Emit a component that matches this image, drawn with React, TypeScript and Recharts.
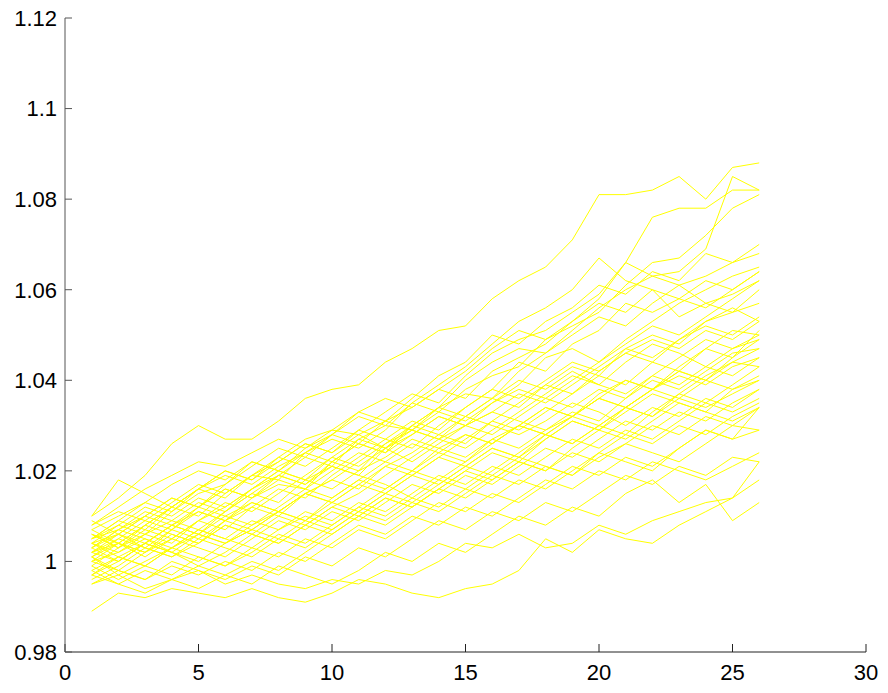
import React from "react";
import { LineChart, Line, XAxis, YAxis } from "recharts";

// time steps
const steps = [1, 2, 3, 4, 5, 6, 7, 8, 9, 10, 11, 12, 13, 14, 15, 16, 17, 18, 19, 20, 21, 22, 23, 24, 25, 26];

const xTicks = [0, 5, 10, 15, 20, 25, 30];
const yTicks = [0.98, 1, 1.02, 1.04, 1.06, 1.08, 1.1, 1.12];

// simulated paths
const path01 = [1.010, 1.014, 1.019, 1.026, 1.030, 1.027, 1.027, 1.031, 1.036, 1.038, 1.039, 1.044, 1.047, 1.051, 1.052, 1.058, 1.062, 1.065, 1.071, 1.081, 1.081, 1.082, 1.085, 1.080, 1.087, 1.088];
const path02 = [1.004, 1.008, 1.006, 1.011, 1.015, 1.017, 1.022, 1.020, 1.025, 1.028, 1.026, 1.031, 1.034, 1.038, 1.036, 1.042, 1.045, 1.048, 1.053, 1.058, 1.066, 1.076, 1.078, 1.078, 1.082, 1.082];
const path03 = [1.002, 1.005, 1.009, 1.007, 1.012, 1.016, 1.014, 1.019, 1.023, 1.021, 1.027, 1.030, 1.029, 1.034, 1.040, 1.044, 1.047, 1.046, 1.051, 1.056, 1.060, 1.063, 1.064, 1.069, 1.085, 1.082];
const path04 = [1.006, 1.003, 1.008, 1.012, 1.010, 1.015, 1.019, 1.018, 1.024, 1.027, 1.025, 1.029, 1.035, 1.033, 1.038, 1.041, 1.043, 1.049, 1.052, 1.055, 1.061, 1.066, 1.067, 1.072, 1.078, 1.081];
const path05 = [1.001, 1.004, 1.002, 1.007, 1.011, 1.009, 1.014, 1.017, 1.016, 1.022, 1.026, 1.024, 1.030, 1.034, 1.037, 1.036, 1.042, 1.046, 1.050, 1.054, 1.052, 1.057, 1.061, 1.063, 1.066, 1.070];
const path06 = [1.007, 1.010, 1.013, 1.011, 1.016, 1.020, 1.018, 1.023, 1.027, 1.029, 1.033, 1.031, 1.036, 1.041, 1.044, 1.050, 1.048, 1.053, 1.056, 1.061, 1.059, 1.064, 1.062, 1.068, 1.066, 1.068];
const path07 = [1.003, 1.000, 1.004, 1.008, 1.006, 1.011, 1.015, 1.013, 1.018, 1.021, 1.019, 1.025, 1.028, 1.032, 1.030, 1.035, 1.039, 1.045, 1.047, 1.044, 1.049, 1.053, 1.057, 1.060, 1.063, 1.065];
const path08 = [0.999, 1.003, 1.006, 1.004, 1.009, 1.007, 1.012, 1.016, 1.014, 1.019, 1.023, 1.027, 1.025, 1.030, 1.034, 1.038, 1.044, 1.042, 1.048, 1.051, 1.057, 1.055, 1.058, 1.056, 1.060, 1.064];
const path09 = [1.005, 1.009, 1.007, 1.012, 1.016, 1.014, 1.019, 1.022, 1.026, 1.024, 1.029, 1.033, 1.037, 1.035, 1.041, 1.046, 1.049, 1.051, 1.055, 1.059, 1.066, 1.063, 1.061, 1.057, 1.059, 1.062];
const path10 = [1.002, 1.006, 1.010, 1.014, 1.012, 1.017, 1.021, 1.025, 1.023, 1.028, 1.032, 1.030, 1.035, 1.039, 1.043, 1.048, 1.053, 1.056, 1.060, 1.067, 1.062, 1.060, 1.054, 1.057, 1.055, 1.060];
const path11 = [1.004, 1.002, 1.006, 1.009, 1.013, 1.011, 1.016, 1.019, 1.017, 1.022, 1.020, 1.026, 1.029, 1.027, 1.032, 1.036, 1.034, 1.039, 1.043, 1.041, 1.047, 1.050, 1.048, 1.053, 1.055, 1.057];
const path12 = [1.000, 1.004, 1.008, 1.006, 1.004, 1.009, 1.012, 1.010, 1.015, 1.018, 1.016, 1.021, 1.024, 1.028, 1.026, 1.031, 1.035, 1.039, 1.037, 1.042, 1.046, 1.044, 1.049, 1.052, 1.050, 1.054];
const path13 = [1.008, 1.011, 1.009, 1.013, 1.017, 1.015, 1.019, 1.023, 1.021, 1.025, 1.029, 1.027, 1.031, 1.029, 1.034, 1.038, 1.036, 1.040, 1.044, 1.042, 1.046, 1.049, 1.047, 1.051, 1.049, 1.053];
const path14 = [1.003, 1.007, 1.005, 1.002, 1.006, 1.010, 1.008, 1.012, 1.016, 1.014, 1.018, 1.022, 1.020, 1.025, 1.028, 1.026, 1.030, 1.034, 1.032, 1.037, 1.040, 1.038, 1.043, 1.047, 1.045, 1.051];
const path15 = [0.998, 1.001, 0.999, 1.003, 1.006, 1.004, 1.008, 1.011, 1.015, 1.013, 1.017, 1.021, 1.019, 1.023, 1.027, 1.031, 1.029, 1.033, 1.037, 1.041, 1.039, 1.044, 1.042, 1.047, 1.051, 1.050];
const path16 = [1.006, 1.004, 1.008, 1.012, 1.016, 1.020, 1.018, 1.022, 1.026, 1.024, 1.028, 1.025, 1.030, 1.034, 1.032, 1.036, 1.040, 1.038, 1.042, 1.039, 1.044, 1.048, 1.046, 1.043, 1.047, 1.049];
const path17 = [1.001, 1.005, 1.003, 1.007, 1.005, 1.009, 1.013, 1.011, 1.009, 1.014, 1.018, 1.016, 1.020, 1.024, 1.022, 1.027, 1.025, 1.029, 1.033, 1.031, 1.036, 1.040, 1.038, 1.042, 1.046, 1.047];
const path18 = [1.005, 1.008, 1.012, 1.010, 1.014, 1.012, 1.016, 1.020, 1.018, 1.023, 1.027, 1.025, 1.022, 1.026, 1.030, 1.028, 1.032, 1.036, 1.034, 1.038, 1.036, 1.041, 1.039, 1.043, 1.041, 1.045];
const path19 = [0.997, 1.000, 1.004, 1.002, 1.000, 1.004, 1.007, 1.005, 1.009, 1.013, 1.011, 1.015, 1.019, 1.017, 1.021, 1.025, 1.023, 1.028, 1.026, 1.030, 1.034, 1.032, 1.037, 1.035, 1.039, 1.043];
const path20 = [1.003, 1.006, 1.004, 1.008, 1.011, 1.009, 1.007, 1.011, 1.015, 1.013, 1.017, 1.015, 1.019, 1.023, 1.021, 1.025, 1.023, 1.027, 1.031, 1.029, 1.033, 1.037, 1.035, 1.033, 1.038, 1.041];
const path21 = [1.009, 1.006, 1.010, 1.014, 1.012, 1.016, 1.014, 1.018, 1.016, 1.020, 1.024, 1.022, 1.026, 1.024, 1.028, 1.026, 1.030, 1.028, 1.032, 1.036, 1.034, 1.032, 1.036, 1.040, 1.038, 1.040];
const path22 = [1.000, 0.998, 1.002, 1.005, 1.003, 1.001, 1.005, 1.009, 1.007, 1.011, 1.009, 1.013, 1.017, 1.015, 1.019, 1.017, 1.021, 1.025, 1.023, 1.027, 1.031, 1.029, 1.033, 1.031, 1.035, 1.038];
const path23 = [1.004, 1.001, 0.999, 1.003, 1.007, 1.005, 1.009, 1.007, 1.011, 1.009, 1.013, 1.011, 1.015, 1.019, 1.017, 1.021, 1.019, 1.023, 1.027, 1.025, 1.029, 1.027, 1.031, 1.035, 1.033, 1.036];
const path24 = [0.996, 0.999, 1.003, 1.001, 1.005, 1.003, 1.001, 1.005, 1.003, 1.007, 1.011, 1.009, 1.013, 1.011, 1.015, 1.019, 1.017, 1.021, 1.019, 1.024, 1.028, 1.026, 1.030, 1.028, 1.032, 1.035];
const path25 = [1.002, 1.000, 1.004, 1.002, 0.999, 1.002, 1.006, 1.004, 1.008, 1.006, 1.010, 1.014, 1.012, 1.016, 1.014, 1.018, 1.022, 1.020, 1.024, 1.022, 1.026, 1.030, 1.028, 1.032, 1.030, 1.034];
const path26 = [1.007, 1.004, 1.002, 1.006, 1.004, 1.008, 1.006, 1.010, 1.008, 1.012, 1.010, 1.014, 1.012, 1.016, 1.020, 1.018, 1.022, 1.020, 1.025, 1.029, 1.027, 1.031, 1.035, 1.033, 1.031, 1.034];
const path27 = [0.999, 0.996, 0.999, 0.997, 1.001, 0.999, 1.003, 1.001, 1.005, 1.003, 1.007, 1.005, 1.009, 1.013, 1.011, 1.015, 1.013, 1.017, 1.021, 1.019, 1.023, 1.021, 1.025, 1.029, 1.027, 1.029];
const path28 = [1.001, 0.998, 0.996, 0.999, 0.997, 1.000, 0.998, 1.002, 1.000, 1.004, 1.008, 1.006, 1.010, 1.008, 1.012, 1.010, 1.014, 1.018, 1.016, 1.020, 1.018, 1.022, 1.020, 1.018, 1.021, 1.024];
const path29 = [0.995, 0.998, 0.996, 1.000, 0.998, 0.996, 0.999, 0.997, 1.001, 0.999, 1.003, 1.001, 1.005, 1.009, 1.007, 1.011, 1.009, 1.013, 1.011, 1.015, 1.019, 1.017, 1.021, 1.019, 1.023, 1.022];
const path30 = [0.997, 0.995, 0.998, 0.996, 0.994, 0.997, 0.995, 0.999, 0.997, 0.995, 0.998, 1.002, 1.000, 1.004, 1.002, 1.006, 1.010, 1.008, 1.012, 1.010, 1.015, 1.018, 1.013, 1.017, 1.009, 1.013];
const path31 = [0.989, 0.993, 0.992, 0.994, 0.993, 0.992, 0.994, 0.992, 0.991, 0.993, 0.996, 0.995, 0.993, 0.992, 0.994, 0.995, 0.998, 1.005, 1.002, 1.007, 1.005, 1.004, 1.008, 1.011, 1.014, 1.018];
const path32 = [0.995, 0.997, 0.994, 0.996, 0.998, 0.995, 0.997, 0.995, 0.994, 0.996, 0.995, 0.998, 0.997, 1.000, 1.004, 1.003, 1.006, 1.003, 1.004, 1.008, 1.006, 1.009, 1.011, 1.013, 1.014, 1.022];
const path33 = [1.008, 1.012, 1.016, 1.019, 1.022, 1.021, 1.024, 1.027, 1.025, 1.029, 1.028, 1.031, 1.029, 1.027, 1.030, 1.033, 1.031, 1.029, 1.032, 1.036, 1.034, 1.038, 1.036, 1.034, 1.037, 1.040];
const path34 = [1.005, 1.009, 1.013, 1.017, 1.020, 1.018, 1.022, 1.020, 1.018, 1.016, 1.020, 1.023, 1.027, 1.025, 1.023, 1.027, 1.030, 1.028, 1.026, 1.030, 1.034, 1.038, 1.041, 1.039, 1.043, 1.045];
const path35 = [1.010, 1.018, 1.015, 1.012, 1.016, 1.019, 1.017, 1.021, 1.024, 1.022, 1.026, 1.024, 1.028, 1.032, 1.030, 1.033, 1.037, 1.035, 1.039, 1.043, 1.047, 1.045, 1.049, 1.053, 1.056, 1.053];
const path36 = [0.998, 0.995, 0.993, 0.996, 0.999, 0.997, 1.000, 0.998, 1.002, 1.006, 1.010, 1.008, 1.012, 1.016, 1.020, 1.024, 1.022, 1.027, 1.031, 1.029, 1.034, 1.038, 1.042, 1.040, 1.045, 1.049];
const path37 = [1.003, 1.007, 1.011, 1.009, 1.007, 1.011, 1.015, 1.019, 1.017, 1.021, 1.019, 1.017, 1.014, 1.018, 1.016, 1.020, 1.024, 1.028, 1.032, 1.030, 1.028, 1.033, 1.037, 1.041, 1.044, 1.043];
const path38 = [1.000, 1.002, 1.005, 1.003, 1.007, 1.005, 1.003, 1.007, 1.010, 1.008, 1.012, 1.010, 1.014, 1.012, 1.016, 1.014, 1.018, 1.016, 1.020, 1.024, 1.022, 1.020, 1.025, 1.029, 1.027, 1.034];
const path39 = [1.006, 1.003, 1.007, 1.005, 1.009, 1.013, 1.011, 1.015, 1.019, 1.023, 1.021, 1.025, 1.029, 1.033, 1.031, 1.035, 1.038, 1.036, 1.040, 1.044, 1.048, 1.052, 1.050, 1.054, 1.058, 1.062];
const path40 = [1.002, 1.004, 1.001, 1.005, 1.009, 1.012, 1.016, 1.020, 1.024, 1.028, 1.033, 1.036, 1.034, 1.038, 1.042, 1.047, 1.051, 1.049, 1.053, 1.057, 1.055, 1.060, 1.058, 1.062, 1.060, 1.064];
const path41 = [1.004, 1.006, 1.003, 1.001, 1.004, 1.008, 1.006, 1.004, 1.008, 1.012, 1.015, 1.019, 1.023, 1.027, 1.025, 1.029, 1.033, 1.037, 1.041, 1.039, 1.037, 1.041, 1.045, 1.049, 1.047, 1.050];
const path42 = [0.997, 1.001, 1.004, 1.008, 1.006, 1.004, 1.007, 1.011, 1.009, 1.007, 1.011, 1.015, 1.013, 1.017, 1.021, 1.019, 1.023, 1.021, 1.019, 1.023, 1.026, 1.024, 1.022, 1.026, 1.030, 1.029];
const path43 = [1.005, 1.007, 1.010, 1.008, 1.012, 1.010, 1.013, 1.011, 1.015, 1.018, 1.022, 1.026, 1.030, 1.028, 1.032, 1.030, 1.028, 1.031, 1.035, 1.033, 1.030, 1.034, 1.032, 1.036, 1.034, 1.038];
const path44 = [1.001, 0.997, 1.000, 1.003, 1.001, 0.999, 1.002, 1.006, 1.004, 1.008, 1.012, 1.016, 1.020, 1.018, 1.022, 1.026, 1.030, 1.034, 1.032, 1.036, 1.040, 1.038, 1.042, 1.040, 1.044, 1.047];

const paths = [
  path01, path02, path03, path04, path05, path06, path07, path08, path09, path10, path11,
  path12, path13, path14, path15, path16, path17, path18, path19, path20, path21, path22,
  path23, path24, path25, path26, path27, path28, path29, path30, path31, path32, path33,
  path34, path35, path36, path37, path38, path39, path40, path41, path42, path43, path44,
];

const rows = steps.map((t, i) => {
  const row: any = { t };
  paths.forEach((p, k) => {
    row["p" + k] = p[i];
  });
  return row;
});

const tickFont = { fontFamily: "'Liberation Sans', Arial, sans-serif", fontSize: 22, fill: "#000" };

const App = () => {
  return (
    <div style={{ position: "absolute", left: 0, top: 0, width: 888, height: 693, background: "#fff" }}>
      <LineChart width={888} height={693} data={rows} margin={{ top: 18, right: 22, bottom: 0, left: 0 }}>
        <XAxis
          dataKey="t"
          type="number"
          domain={[0, 30]}
          ticks={xTicks}
          height={41}
          tickSize={-8}
          tickMargin={20}
          stroke="#222"
          tick={tickFont}
          interval={0}
        />
        <YAxis
          type="number"
          domain={[0.98, 1.12]}
          ticks={yTicks}
          width={65}
          tickSize={-7}
          tickMargin={15}
          stroke="#555"
          tick={tickFont}
          interval={0}
          tickFormatter={(v: number) => String(Number(v.toFixed(2)))}
        />
        {paths.map((_, k) => (
          <Line
            key={k}
            dataKey={"p" + k}
            stroke="#ffff00"
            strokeWidth={1}
            dot={false}
            activeDot={false}
            isAnimationActive={false}
          />
        ))}
      </LineChart>
    </div>
  );
};

export default App;
